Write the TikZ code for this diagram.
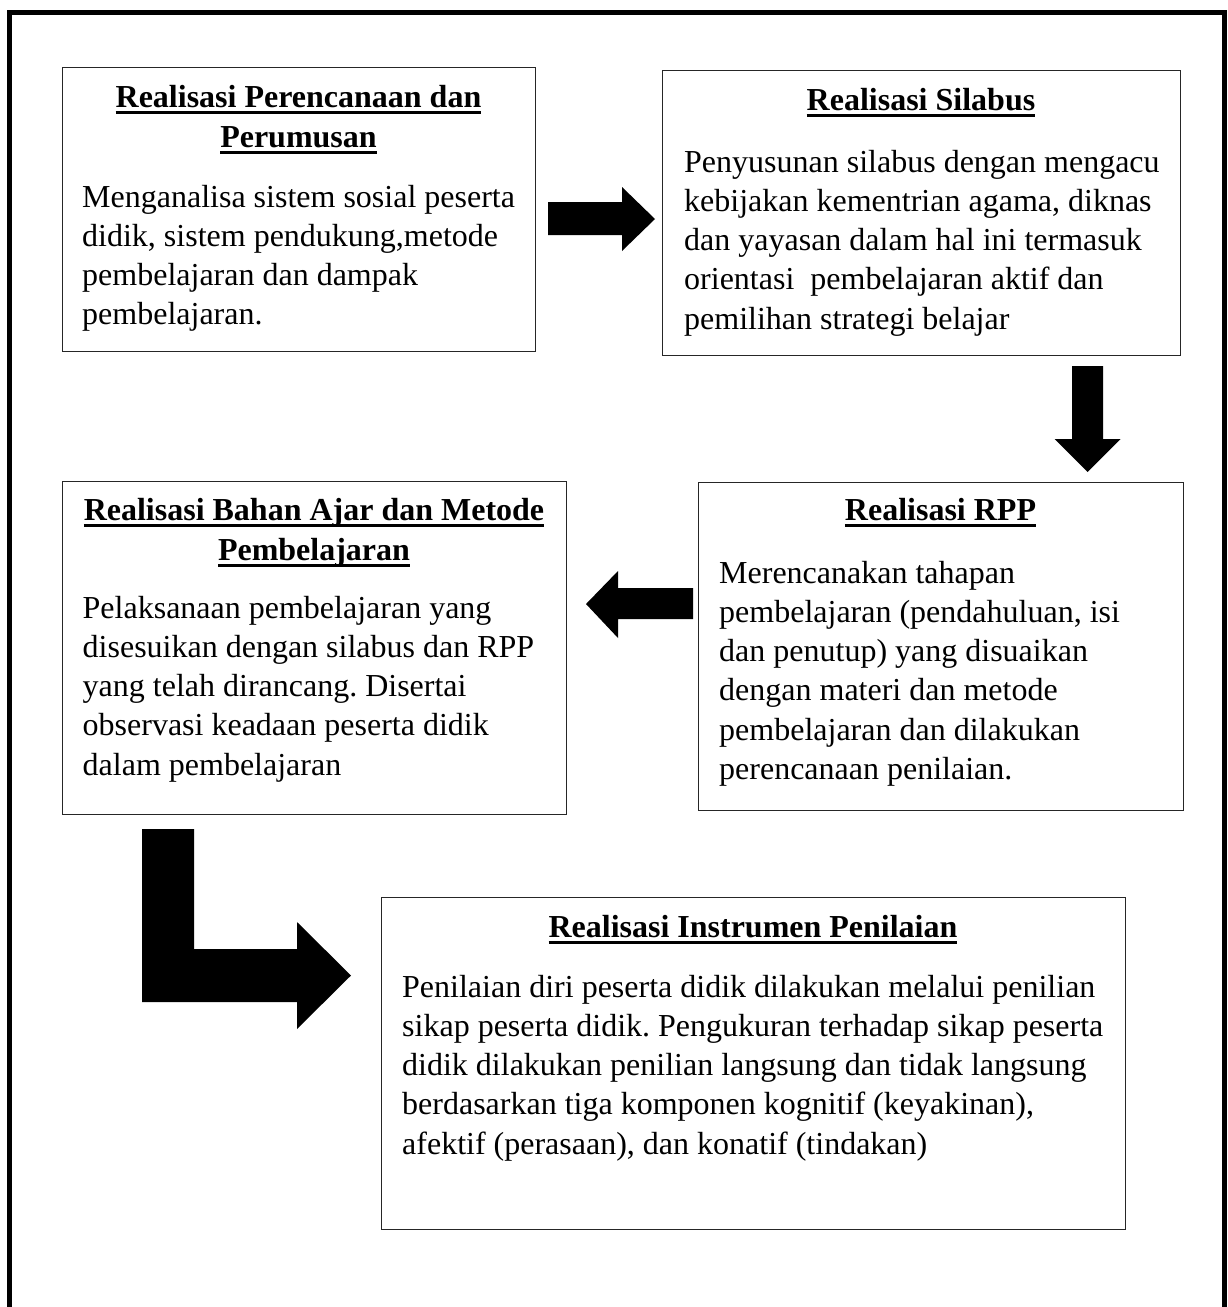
\documentclass[tikz,border=0pt]{standalone}
\usepackage{fontspec}
\setmainfont{Liberation Serif}
\frenchspacing
\newsavebox\ulbox
\newcommand\ulx[1]{\leavevmode\sbox\ulbox{#1}\rlap{\rule[-6.5pt]{\wd\ulbox}{3pt}}\usebox\ulbox}
\begin{document}
\begin{tikzpicture}[x=1pt,y=-1pt,
  box/.style={draw=black!85, line width=1.3pt, anchor=north west, inner sep=0pt},
  body/.style={inner sep=0pt, anchor=base west, font=\fontsize{32}{39.3}\selectfont},
  title/.style={inner sep=0pt, anchor=base, font=\fontsize{32}{40}\selectfont\bfseries},
  blk/.style={fill=black}]
\useasboundingbox (0,0) rectangle (1227,1307);
% outer frame
\draw[line width=5pt] (9.5,1307) -- (9.5,12) -- (1224.8,12) -- (1224.8,1307);

% boxes
\node[box, minimum width=473pt, minimum height=284pt] (b1) at (62,67) {};
\node[box, minimum width=518pt, minimum height=285pt] (b2) at (662,70) {};
\node[box, minimum width=485pt, minimum height=328pt] (b3) at (698,482) {};
\node[box, minimum width=504pt, minimum height=333pt] (b4) at (62,481) {};
\node[box, minimum width=744pt, minimum height=332pt] (b5) at (381,897) {};

% titles
\node[title] (t1) at (298.5,107) {\parbox[t]{460pt}{\centering\ulx{Realisasi Perencanaan dan}\\\ulx{Perumusan}}};
\node[title] (t2) at (921,110) {\parbox[t]{500pt}{\centering\ulx{Realisasi Silabus}}};
\node[title] (t3) at (940.5,520) {\parbox[t]{480pt}{\centering\ulx{Realisasi RPP}}};
\node[title] (t4) at (314,520) {\parbox[t]{500pt}{\centering\ulx{Realisasi Bahan Ajar dan Metode}\\\ulx{Pembelajaran}}};
\node[title] (t5) at (753,937) {\parbox[t]{740pt}{\centering\ulx{Realisasi Instrumen Penilaian}}};

% bodies
\node[body] (x1) at (82,207) {\parbox[t]{800pt}{\raggedright
Menganalisa sistem sosial peserta\\
didik, sistem pendukung,metode\\
pembelajaran dan dampak\\
pembelajaran.}};
\node[body] (x2) at (684,172) {\parbox[t]{800pt}{\raggedright
Penyusunan silabus dengan mengacu\\
kebijakan kementrian agama, diknas\\
dan yayasan dalam hal ini termasuk\\
orientasi\ \ pembelajaran aktif dan\\
pemilihan strategi belajar}};
\node[body] (x3) at (719,583) {\parbox[t]{800pt}{\raggedright
Merencanakan tahapan\\
pembelajaran (pendahuluan, isi\\
dan penutup) yang disuaikan\\
dengan materi dan metode\\
pembelajaran dan dilakukan\\
perencanaan penilaian.}};
\node[body] (x4) at (82.5,618) {\parbox[t]{800pt}{\raggedright
Pelaksanaan pembelajaran yang\\
disesuikan dengan silabus dan RPP\\
yang telah dirancang. Disertai\\
observasi keadaan peserta didik\\
dalam pembelajaran}};
\node[body] (x5) at (402,997) {\parbox[t]{800pt}{\raggedright
Penilaian diri peserta didik dilakukan melalui penilian\\
sikap peserta didik. Pengukuran terhadap sikap peserta\\
didik dilakukan penilian langsung dan tidak langsung\\
berdasarkan tiga komponen kognitif (keyakinan),\\
afektif (perasaan), dan konatif (tindakan)}};

% block arrows
\fill[blk] (548,202) -- (622,202) -- (622,187) -- (655,219) -- (622,251) -- (622,235) -- (548,235) -- cycle;
\fill[blk] (1072,366) -- (1103,366) -- (1103,439) -- (1120.5,439) -- (1087.5,472) -- (1054.5,439) -- (1072,439) -- cycle;
\fill[blk] (693,588) -- (618,588) -- (618,571) -- (586,604) -- (618,638) -- (618,619) -- (693,619) -- cycle;
\fill[blk] (142,829) -- (194,829) -- (194,949) -- (297,949) -- (297,922) -- (351,975.5) -- (297,1029) -- (297,1002) -- (142,1002) -- cycle;
\end{tikzpicture}
\end{document}
